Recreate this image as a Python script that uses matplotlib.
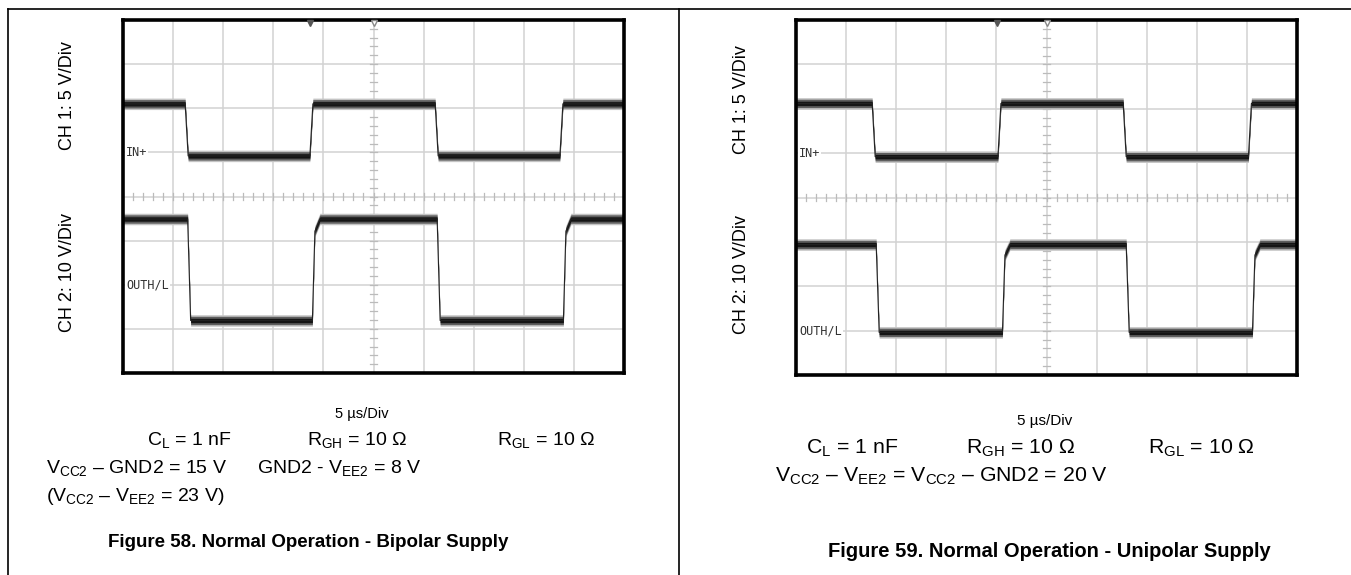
import matplotlib
matplotlib.use("Agg")
import matplotlib.pyplot as plt
import numpy as np

plt.rcParams['font.family'] = ['Liberation Sans', 'DejaVu Sans']
plt.rcParams['mathtext.fontset'] = 'custom'
plt.rcParams['mathtext.rm'] = 'Liberation Sans'

# scope readings (time in us, levels in V)
left_ch1_edges_us = [6.2, 18.65, 31.15, 43.6]
left_ch1_levels_v = [5.5, -0.4]      # high, low
left_ch2_edges_us = [6.45, 18.9, 31.35, 43.95]
left_ch2_levels_v = [14.9, -8.1]

right_ch1_edges_us = [7.6, 20.15, 32.65, 45.15]
right_ch1_levels_v = [5.6, -0.4]
right_ch2_edges_us = [8.0, 20.6, 32.95, 45.55]
right_ch2_levels_v = [19.4, -0.4]

ch1_volts_per_div = 5
ch2_volts_per_div = 10
us_per_div = 5
left_gnd_div = [5, 2]     # ch1, ch2 ground marker
right_gnd_div = [5, 1]
left_trig_us = [18.65, 25.0]
right_trig_us = [20.1, 25.0]


def trace(edges, levels, fall=0.3, rise=0.3, rounded=False):
    hi, lo = levels
    t, v = [0.0], [hi]
    state = hi
    for e in edges:
        if state == hi:
            t += [e, e + fall]
            v += [hi, lo]
            state = lo
        else:
            if rounded:
                t += [e, e + 0.25, e + 0.75]
                v += [lo, lo + 0.88 * (hi - lo), hi]
            else:
                t += [e, e + rise]
                v += [lo, hi]
            state = hi
    t.append(50.0)
    v.append(state)
    return np.array(t), np.array(v)


def draw_trace(ax, t, v_div):
    ax.fill_between(t, v_div - 0.13, v_div + 0.13, color='#c4c4c4', lw=0, zorder=3)
    ax.fill_between(t, v_div - 0.095, v_div + 0.095, color='#5e5e5e', lw=0, zorder=4)
    ax.fill_between(t, v_div - 0.05, v_div + 0.05, color='#151515', lw=0, zorder=5)
    ax.plot(t, v_div, color='#222222', lw=0.8, zorder=5)


def scope(ax, ch1, ch2, gnd, trig):
    ax.set_xlim(0, 10 * us_per_div)
    ax.set_ylim(0, 8)
    ax.set_xticks([])
    ax.set_yticks([])
    for s in ax.spines.values():
        s.set_linewidth(2.6)
        s.set_color('black')
        s.set_zorder(10)
    for i in range(1, 10):
        ax.axvline(i * us_per_div, color='#d2d2d2', lw=1.1, zorder=1)
    for j in range(1, 8):
        ax.axhline(j, color='#d2d2d2', lw=1.1, zorder=1)
    # minor ticks on center cross
    for k in np.arange(0, 10.01, 0.2):
        ax.plot([k * us_per_div] * 2, [3.93, 4.07], color='#bbbbbb', lw=0.9, zorder=1)
    for k in np.arange(0, 8.01, 0.2):
        ax.plot([24.7, 25.3], [k, k], color='#bbbbbb', lw=0.9, zorder=1)

    t1, v1 = trace(*ch1)
    t2, v2 = trace(*ch2, fall=0.3, rounded=True)
    draw_trace(ax, t1, gnd[0] + v1 / ch1_volts_per_div)
    draw_trace(ax, t2, gnd[1] + v2 / ch2_volts_per_div)

    mono = dict(family='DejaVu Sans Mono', fontsize=8.5, color='#333333', va='center',
                ha='left', zorder=6, bbox=dict(facecolor='white', edgecolor='none', pad=0.6))
    ax.text(0.3, gnd[0], 'IN+', **mono)
    ax.text(0.3, gnd[1], 'OUTH/L', **mono)
    ax.plot([trig[0]], [7.93], marker='v', ms=5, color='#555555', clip_on=False, zorder=11)
    ax.plot([trig[1]], [7.93], marker='v', ms=5, mfc='white', mec='#888888', clip_on=False, zorder=11)


fig = plt.figure(figsize=(13.51, 5.75), dpi=100)
bg = fig.add_axes([0, 0, 1, 1])
bg.set_xlim(0, 1351)
bg.set_ylim(575, 0)
bg.axis('off')
bg.plot([8, 1351], [9, 9], color='black', lw=1.2)
bg.plot([8, 8], [9, 575], color='black', lw=1.2)
bg.plot([679, 679], [9, 575], color='black', lw=1.2)

axl = fig.add_axes([123 / 1351, 1 - 373 / 575, 501 / 1351, 353 / 575])
scope(axl, (left_ch1_edges_us, left_ch1_levels_v), (left_ch2_edges_us, left_ch2_levels_v),
      left_gnd_div, left_trig_us)
axr = fig.add_axes([796 / 1351, 1 - 375 / 575, 501 / 1351, 355 / 575])
scope(axr, (right_ch1_edges_us, right_ch1_levels_v), (right_ch2_edges_us, right_ch2_levels_v),
      right_gnd_div, right_trig_us)

lab = dict(rotation=90, ha='center', va='center', fontsize=13)
bg.text(68, 96, 'CH 1: 5 V/Div', **lab)
bg.text(68, 273, 'CH 2: 10 V/Div', **lab)
bg.text(741, 100, 'CH 1: 5 V/Div', **lab)
bg.text(741, 275, 'CH 2: 10 V/Div', **lab)

fs = 14
bg.text(362, 418, '5 µs/Div', fontsize=10.5, ha='center', va='baseline')
bg.text(147, 446, 'C$_\\mathregular{L}$ = 1 nF', fontsize=fs, va='baseline')
bg.text(307, 446, 'R$_\\mathregular{GH}$ = 10 Ω', fontsize=fs, va='baseline')
bg.text(497, 446, 'R$_\\mathregular{GL}$ = 10 Ω', fontsize=fs, va='baseline')
bg.text(46, 474, 'V$_\\mathregular{CC2}$ – GND2 = 15 V', fontsize=fs, va='baseline')
bg.text(257, 474, 'GND2 - V$_\\mathregular{EE2}$ = 8 V', fontsize=fs, va='baseline')
bg.text(46, 501, '(V$_\\mathregular{CC2}$ – V$_\\mathregular{EE2}$ = 23 V)', fontsize=fs, va='baseline')
bg.text(308, 547, 'Figure 58. Normal Operation - Bipolar Supply', fontsize=13.5, weight='bold',
        ha='center', va='baseline')

fr = 15.3
bg.text(1045, 425, '5 µs/Div', fontsize=11, ha='center', va='baseline')
bg.text(806, 453, 'C$_\\mathregular{L}$ = 1 nF', fontsize=fr, va='baseline')
bg.text(966, 453, 'R$_\\mathregular{GH}$ = 10 Ω', fontsize=fr, va='baseline')
bg.text(1148, 453, 'R$_\\mathregular{GL}$ = 10 Ω', fontsize=fr, va='baseline')
bg.text(775, 481, 'V$_\\mathregular{CC2}$ – V$_\\mathregular{EE2}$ = V$_\\mathregular{CC2}$ – GND2 = 20 V',
        fontsize=fr, va='baseline')
bg.text(1049, 557, 'Figure 59. Normal Operation - Unipolar Supply', fontsize=14.5, weight='bold',
        ha='center', va='baseline')

fig.savefig('out.png', dpi=100)
